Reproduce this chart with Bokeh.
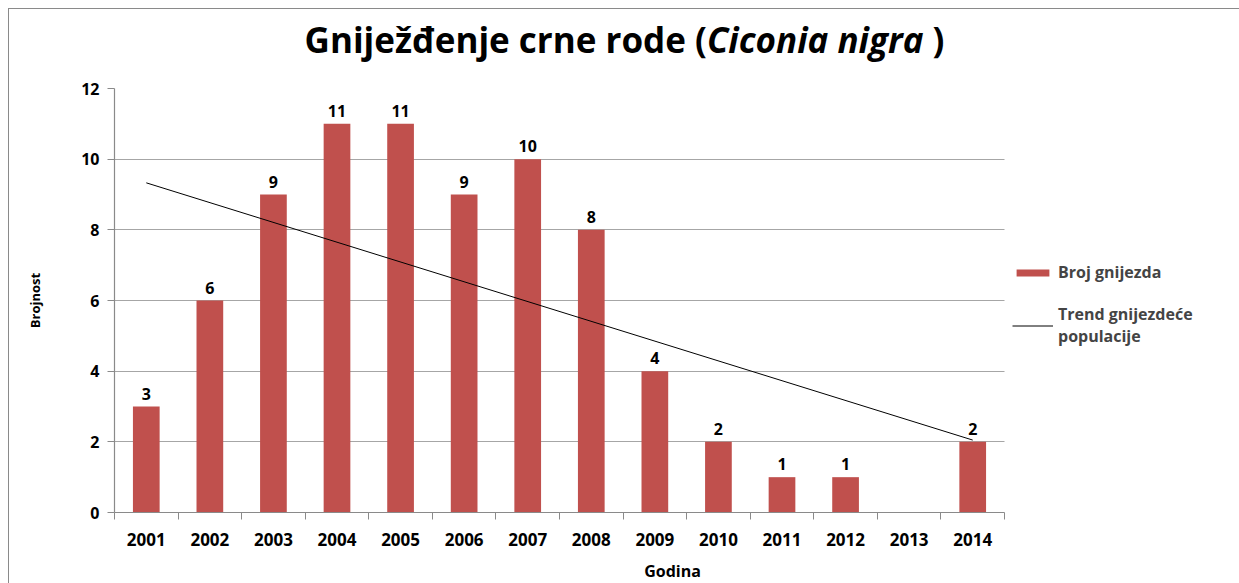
from bokeh.plotting import figure
from bokeh.layouts import column
from bokeh.models import (Range1d, FixedTicker, Legend, LegendItem, Div,
                          ColumnDataSource)
from bokeh.core.properties import value
from bokeh.embed import file_html
from bokeh.resources import INLINE

years = ["2001", "2002", "2003", "2004", "2005", "2006", "2007",
         "2008", "2009", "2010", "2011", "2012", "2013", "2014"]
nests = [3, 6, 9, 11, 11, 9, 10, 8, 4, 2, 1, 1, None, 2]
trend_years = ["2001", "2014"]
trend_values = [9.33, 2.05]

title_main = "Gniježđenje crne rode ("
title_italic = "Ciconia nigra"
title_end = " )"
y_label = "Brojnost"
x_label = "Godina"
bar_series = "Broj gnijezda"
trend_series = "Trend gnijezdeće\npopulacije"

FONT = "Open Sans"
BAR = "#C0504D"
GRID = "#A6A6A6"
FRAME_LINE = "#8a8a8a"

pos = {y: i + 1 for i, y in enumerate(years)}
bx = [pos[y] for y, v in zip(years, nests) if v is not None]
bv = [v for v in nests if v is not None]
src = ColumnDataSource(dict(x=bx, top=bv, lab=[str(v) for v in bv]))

n = len(years)
# frame spans the plot area plus the legend area to the right
frame_w_plot = 890.0
frame_w_total = 1116.0
x_end = 0.5 + n * frame_w_total / frame_w_plot

title = Div(text=f"<b>{title_main}<i>{title_italic}</i>{title_end}</b>",
            width=1236, height=62,
            styles={"font-family": FONT, "font-size": "35px", "color": "black",
                    "text-align": "center", "line-height": "40px",
                    "padding-top": "15px", "padding-left": "3px",
                    "box-sizing": "border-box", "white-space": "nowrap"})

p = figure(width=1236, height=512, output_backend="svg", toolbar_location=None,
           x_range=Range1d(0.5, x_end), y_range=Range1d(0, 12),
           min_border_left=114, min_border_top=16, min_border_bottom=65,
           min_border_right=6)
p.outline_line_color = None
p.background_fill_color = "white"
p.border_fill_color = None

bars = p.vbar(x="x", top="top", width=0.42, bottom=0, source=src,
              fill_color=BAR, line_color=None)
p.text(x="x", y="top", text="lab", source=src, y_offset=-7,
       text_align="center", text_baseline="bottom",
       text_font=value(FONT), text_font_style="bold", text_font_size="16px",
       text_color="black")
trend = p.line([pos[y] for y in trend_years], trend_values,
               line_color="black", line_width=1)

# axes
p.xgrid.grid_line_color = None
p.ygrid.grid_line_color = GRID
p.ygrid.grid_line_width = 1.2
p.ygrid.cross_bounds = (0.5, n + 0.5)

p.yaxis.ticker = FixedTicker(ticks=[0, 2, 4, 6, 8, 10, 12])
p.yaxis.major_tick_out = 7
p.yaxis.major_tick_in = 0
p.xaxis.ticker = FixedTicker(ticks=list(range(1, n + 1)),
                             minor_ticks=[i + 0.5 for i in range(n + 1)])
p.xaxis.bounds = (0.5, n + 0.5)
p.xaxis.major_label_overrides = {i + 1: y for i, y in enumerate(years)}
p.xaxis.major_tick_out = 0
p.xaxis.major_tick_in = 0
p.xaxis.minor_tick_out = 7
p.xaxis.minor_tick_in = 0
for ax in (p.xaxis, p.yaxis):
    ax.axis_line_color = "#8a8a8a"
    ax.axis_line_width = 1.2
    ax.major_tick_line_color = "#8a8a8a"
    ax.minor_tick_line_color = "#8a8a8a"
    ax.major_label_text_font = FONT
    ax.major_label_text_font_style = "bold"
    ax.major_label_text_font_size = "17px"
    ax.major_label_text_color = "black"
    ax.axis_label_text_font = FONT
    ax.axis_label_text_font_style = "bold"
    ax.axis_label_text_color = "black"
p.yaxis.major_label_text_font_size = "16px"
p.xaxis.axis_label_text_font_size = "16px"
p.yaxis.axis_label_text_font_size = "13px"
p.yaxis.minor_tick_line_color = None
p.xaxis.major_label_standoff = 13
p.yaxis.major_label_standoff = 8
p.xaxis.axis_label = x_label
p.yaxis.axis_label = y_label
p.xaxis.axis_label_standoff = 11
p.yaxis.axis_label_standoff = 34

legend = Legend(items=[LegendItem(label=bar_series, renderers=[bars]),
                       LegendItem(label=trend_series, renderers=[trend])],
                location=(898, 165), border_line_color=None,
                background_fill_alpha=0, margin=0, padding=12,
                glyph_width=41, glyph_height=9, spacing=20,
                label_text_font=FONT, label_text_font_style="bold",
                label_text_font_size="16px", label_standoff=5)
p.add_layout(legend, "center")

line_bg = (f"linear-gradient({FRAME_LINE},{FRAME_LINE}) 8px 8px / 1px 100% no-repeat, "
           f"linear-gradient({FRAME_LINE},{FRAME_LINE}) 8px 8px / 100% 1px no-repeat, white")
layout = column(title, p, spacing=0, styles={"background": line_bg})

open("out.html", "w").write(file_html(layout, INLINE))
